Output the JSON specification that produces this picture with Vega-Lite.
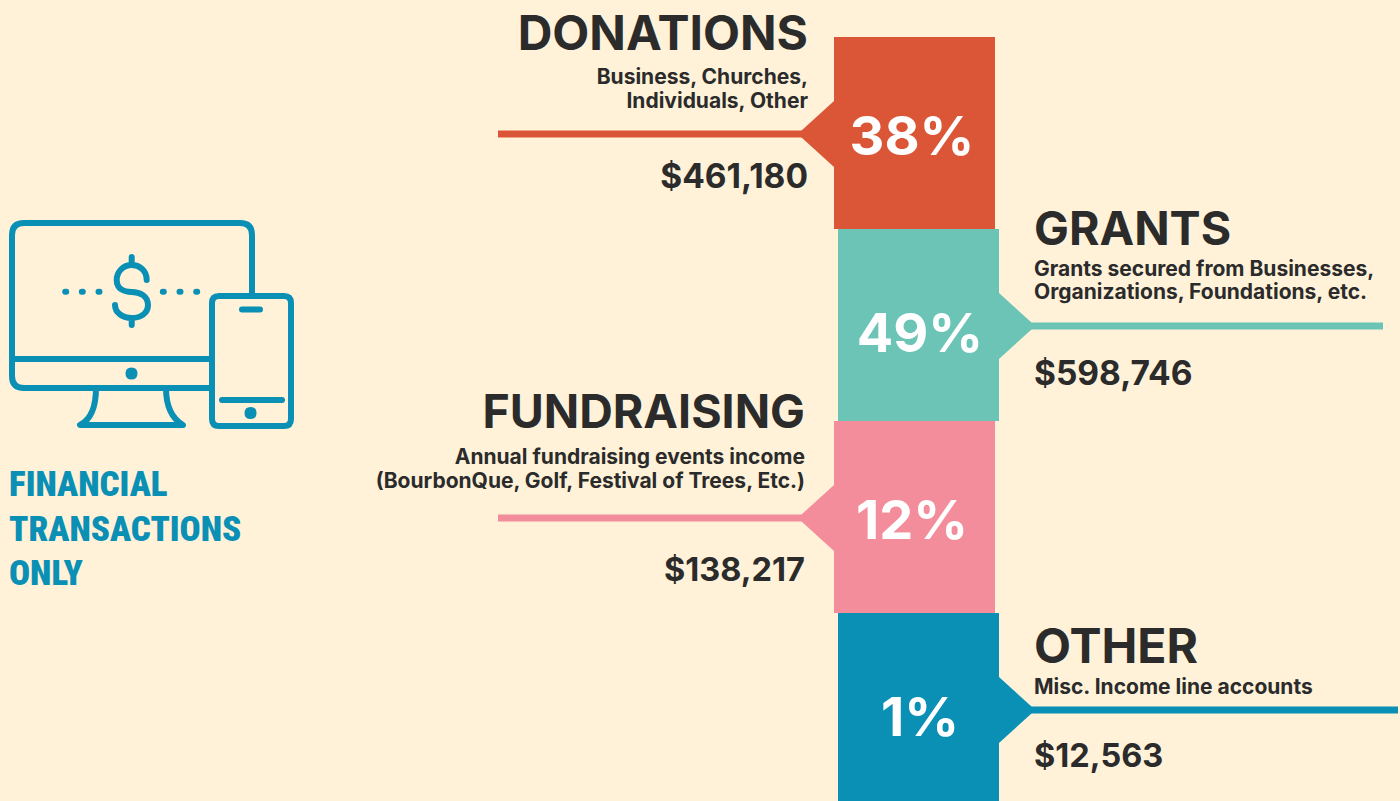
{"$schema":"https://vega.github.io/schema/vega-lite/v6.json","width":1400,"height":768,"autosize":{"type":"none"},"padding":{"left":0,"top":37,"right":0,"bottom":0},"background":"#fff2d9","config":{"view":{"stroke":null},"text":{"font":"Inter","fontWeight":700,"baseline":"alphabetic","color":"#2b2b2b"}},"datasets":{"income":[{"category":"Donations","title":"DONATIONS","note":"Business, Churches, \nIndividuals, Other","share":0.38,"amount":461180,"side":"left"},{"category":"Grants","title":"GRANTS","note":"Grants secured from Businesses,\nOrganizations, Foundations, etc.","share":0.49,"amount":598746,"side":"right"},{"category":"Fundraising","title":"FUNDRAISING","note":"Annual fundraising events income \n(BourbonQue, Golf, Festival of Trees, Etc.)","share":0.12,"amount":138217,"side":"left"},{"category":"Other","title":"OTHER","note":"Misc. Income line accounts","share":0.01,"amount":12563,"side":"right"}],"panel":[{"kind":"icon"}],"caption":[{"kind":"caption","label":"FINANCIAL\nTRANSACTIONS\nONLY"}]},"data":{"name":"income"},"encoding":{"y":{"field":"category","type":"nominal","axis":null,"scale":{"type":"band","domain":["Donations","Grants","Fundraising","Other"],"paddingInner":0,"paddingOuter":0}}},"resolve":{"scale":{"x":"independent"}},"layer":[{"mark":{"type":"tick","orient":"horizontal","thickness":7,"opacity":1,"yOffset":1},"encoding":{"x":{"field":"side","type":"nominal","axis":null,"scale":{"type":"point","padding":0,"domain":["left","right"],"range":[651.5,1191.5]}},"size":{"field":"category","type":"nominal","legend":null,"scale":{"type":"ordinal","domain":["Donations","Grants","Fundraising","Other"],"range":[307,383,307,413]}},"color":{"field":"category","type":"nominal","legend":null,"scale":{"domain":["Donations","Grants","Fundraising","Other"],"range":["#db5636","#6bc4b5","#f48d9b","#0a8fb5"]}}}},{"mark":{"type":"point","filled":true,"opacity":1,"size":4356,"yOffset":1},"encoding":{"x":{"field":"side","type":"nominal","axis":null,"scale":{"type":"point","padding":0,"domain":["left","right"],"range":[834,999]}},"shape":{"field":"side","type":"nominal","legend":null,"scale":{"domain":["left","right"],"range":["M-1.1,0L0,-1L0.1,-1L0.1,1L0,1Z","M1.1,0L0,-1L-0.1,-1L-0.1,1L0,1Z"]}},"color":{"field":"category","type":"nominal","legend":null}}},{"mark":{"type":"bar","width":161},"encoding":{"x":{"field":"side","type":"nominal","axis":null,"scale":{"type":"point","padding":0,"domain":["left","right"],"range":[914.5,918.5]}},"color":{"field":"category","type":"nominal","legend":null}}},{"transform":[{"filter":"datum.side==='left'"}],"mark":{"type":"text","align":"center","fontSize":54,"dy":22,"color":"#ffffff"},"encoding":{"x":{"field":"side","type":"nominal","axis":null,"scale":{"type":"point","padding":0,"domain":["left","right"],"range":[912,920]}},"text":{"field":"share","type":"quantitative","format":".0%"}}},{"transform":[{"filter":"datum.side==='right'"}],"mark":{"type":"text","align":"center","fontSize":54,"dy":27,"color":"#ffffff"},"encoding":{"x":{"field":"side","type":"nominal","axis":null,"scale":{"type":"point","padding":0,"domain":["left","right"],"range":[912,920]}},"text":{"field":"share","type":"quantitative","format":".0%"}}},{"transform":[{"filter":"datum.category==='Donations'"}],"mark":{"type":"text","align":"right","fontSize":48,"dy":-83},"encoding":{"x":{"field":"side","type":"nominal","axis":null,"scale":{"type":"point","padding":0,"domain":["left","right"],"range":[808,1034]}},"text":{"field":"title"}}},{"transform":[{"filter":"datum.category==='Grants'"}],"mark":{"type":"text","align":"left","fontSize":46.5,"dy":-80},"encoding":{"x":{"field":"side","type":"nominal","axis":null,"scale":{"type":"point","padding":0,"domain":["left","right"],"range":[808,1034]}},"text":{"field":"title"}}},{"transform":[{"filter":"datum.category==='Fundraising'"}],"mark":{"type":"text","align":"right","fontSize":46.5,"dy":-89},"encoding":{"x":{"field":"side","type":"nominal","axis":null,"scale":{"type":"point","padding":0,"domain":["left","right"],"range":[805,1034]}},"text":{"field":"title"}}},{"transform":[{"filter":"datum.category==='Other'"}],"mark":{"type":"text","align":"left","fontSize":48,"dy":-46},"encoding":{"x":{"field":"side","type":"nominal","axis":null,"scale":{"type":"point","padding":0,"domain":["left","right"],"range":[808,1034]}},"text":{"field":"title"}}},{"transform":[{"filter":"datum.category==='Donations'"}],"mark":{"type":"text","align":"right","fontSize":21,"dy":-49,"lineBreak":"\n","lineHeight":24},"encoding":{"x":{"field":"side","type":"nominal","axis":null,"scale":{"type":"point","padding":0,"domain":["left","right"],"range":[808,1034]}},"text":{"field":"note"}}},{"transform":[{"filter":"datum.category==='Grants'"}],"mark":{"type":"text","align":"left","fontSize":21,"dy":-49,"lineBreak":"\n","lineHeight":23},"encoding":{"x":{"field":"side","type":"nominal","axis":null,"scale":{"type":"point","padding":0,"domain":["left","right"],"range":[808,1034]}},"text":{"field":"note"}}},{"transform":[{"filter":"datum.category==='Fundraising'"}],"mark":{"type":"text","align":"right","fontSize":21,"dy":-53,"lineBreak":"\n","lineHeight":24},"encoding":{"x":{"field":"side","type":"nominal","axis":null,"scale":{"type":"point","padding":0,"domain":["left","right"],"range":[805,1034]}},"text":{"field":"note"}}},{"transform":[{"filter":"datum.category==='Other'"}],"mark":{"type":"text","align":"left","fontSize":21,"dy":-15},"encoding":{"x":{"field":"side","type":"nominal","axis":null,"scale":{"type":"point","padding":0,"domain":["left","right"],"range":[808,1034]}},"text":{"field":"note"}}},{"transform":[{"filter":"datum.category==='Donations'"}],"mark":{"type":"text","align":"right","fontSize":33.5,"dy":55},"encoding":{"x":{"field":"side","type":"nominal","axis":null,"scale":{"type":"point","padding":0,"domain":["left","right"],"range":[808,1034]}},"text":{"field":"amount","type":"quantitative","format":"$,"}}},{"transform":[{"filter":"datum.category==='Grants'"}],"mark":{"type":"text","align":"left","fontSize":33.5,"dy":60},"encoding":{"x":{"field":"side","type":"nominal","axis":null,"scale":{"type":"point","padding":0,"domain":["left","right"],"range":[808,1034]}},"text":{"field":"amount","type":"quantitative","format":"$,"}}},{"transform":[{"filter":"datum.category==='Fundraising'"}],"mark":{"type":"text","align":"right","fontSize":32.5,"dy":64},"encoding":{"x":{"field":"side","type":"nominal","axis":null,"scale":{"type":"point","padding":0,"domain":["left","right"],"range":[805,1034]}},"text":{"field":"amount","type":"quantitative","format":"$,"}}},{"transform":[{"filter":"datum.category==='Other'"}],"mark":{"type":"text","align":"left","fontSize":32.5,"dy":58},"encoding":{"x":{"field":"side","type":"nominal","axis":null,"scale":{"type":"point","padding":0,"domain":["left","right"],"range":[808,1034]}},"text":{"field":"amount","type":"quantitative","format":"$,"}}},{"data":{"name":"panel"},"mark":{"type":"point","filled":false,"opacity":1,"size":40000,"color":"#0a8fb5","strokeWidth":6,"strokeCap":"round","strokeJoin":"round","shape":"M1.01,-0.32L1.01,-0.9Q1.01,-1.02 0.89,-1.02L-1.27,-1.02Q-1.39,-1.02 -1.39,-0.9L-1.39,0.51Q-1.39,0.63 -1.27,0.63L0.61,0.63M-1.39,0.34L0.61,0.34M0.68,-0.29L1.33,-0.29Q1.4,-0.29 1.4,-0.22L1.4,0.94Q1.4,1.01 1.33,1.01L0.68,1.01Q0.61,1.01 0.61,0.94L0.61,-0.22Q0.61,-0.29 0.68,-0.29ZM0.91,-0.155L1.09,-0.155M0.71,0.75L1.31,0.75M0.965,0.88Q0.965,0.85 0.995,0.85Q1.025,0.85 1.025,0.88Q1.025,0.91 0.995,0.91Q0.965,0.91 0.965,0.88ZM-0.225,0.485Q-0.225,0.455 -0.195,0.455Q-0.165,0.455 -0.165,0.485Q-0.165,0.515 -0.195,0.515Q-0.225,0.515 -0.225,0.485ZM-0.55,0.63Q-0.55,0.92 -0.71,1L0.32,1Q0.15,0.9 0.15,0.63M-0.193,-0.68L-0.193,-0.6M-0.193,-0.07L-0.193,0M-0.043,-0.45C-0.043,-0.55 -0.12,-0.6 -0.193,-0.6C-0.28,-0.6 -0.343,-0.53 -0.343,-0.45C-0.343,-0.36 -0.27,-0.33 -0.193,-0.33C-0.11,-0.33 -0.03,-0.29 -0.03,-0.2C-0.03,-0.12 -0.1,-0.07 -0.193,-0.07C-0.28,-0.07 -0.36,-0.12 -0.36,-0.2M-0.858,-0.333L-0.848,-0.333M-0.692,-0.333L-0.682,-0.333M-0.525,-0.333L-0.515,-0.333M0.118,-0.333L0.128,-0.333M0.285,-0.333L0.295,-0.333M0.452,-0.333L0.462,-0.333"},"encoding":{"x":{"field":"kind","type":"nominal","axis":null,"scale":{"type":"point","padding":0,"domain":["icon"],"range":[151,151]}},"y":{"datum":"Grants","type":"nominal"}}},{"data":{"name":"caption"},"mark":{"type":"text","align":"left","font":"Liberation Narrow, Arial Narrow, Roboto Condensed, Roboto","fontSize":35,"fontWeight":900,"dy":171,"lineBreak":"\n","lineHeight":44.5,"color":"#0a8fb5"},"encoding":{"x":{"field":"kind","type":"nominal","axis":null,"scale":{"type":"point","padding":0,"domain":["caption"],"range":[9,9]}},"y":{"datum":"Grants","type":"nominal"},"text":{"field":"label"}}}]}
